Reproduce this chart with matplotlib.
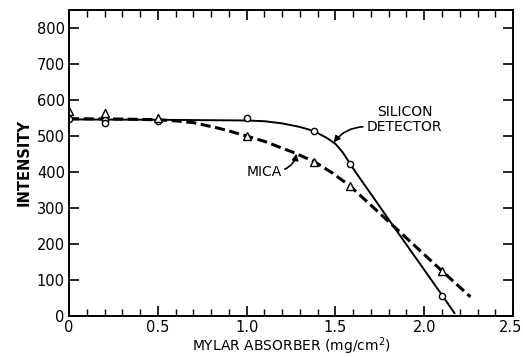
import matplotlib.pyplot as plt
import matplotlib.transforms as mtransforms
from matplotlib.ticker import MultipleLocator

# measured points
si_x = [0, 0.2, 0.2, 0.5, 1.0, 1.38, 1.58, 2.1]
si_y = [546, 543, 537, 541, 551, 513, 421, 56]
mica_x = [0, 0.2, 0.5, 1.0, 1.38, 1.58, 2.1]
mica_y = [568, 563, 550, 500, 428, 362, 124]

# hand-drawn curves
si_curve_x = [0, 0.5, 1.0, 1.1, 1.2, 1.3, 1.35, 1.4, 1.45, 1.5, 1.54, 1.58, 1.62, 1.8, 2.0, 2.1, 2.17]
si_curve_y = [546, 545, 543, 541, 535, 525, 518, 508, 495, 478, 455, 425, 395, 268, 128, 58, 8]
mica_curve_x = [0, 0.3, 0.5, 0.6, 0.7, 0.83, 0.9, 1.0, 1.1, 1.26, 1.38, 1.48, 1.58, 1.8, 2.1, 2.26]
mica_curve_y = [548, 547, 545, 542, 537, 523, 514, 500, 485, 455, 429, 398, 362, 262, 125, 53]

plt.rcParams['font.family'] = 'DejaVu Sans'

fig = plt.figure(figsize=(5.23, 3.57), dpi=100)
ax = fig.add_axes([0.132, 0.115, 0.849, 0.857])

ax.plot(si_curve_x, si_curve_y, 'k-', lw=1.4)
ax.plot(mica_curve_x, mica_curve_y, 'k--', lw=2.2, dashes=(3.3, 1.5))
ax.plot(si_x, si_y, 'o', mfc='white', mec='black', ms=4.5, mew=1.0)
ax.plot(mica_x, mica_y, '^', mfc='white', mec='black', ms=5.5, mew=1.0)

ax.set_xlim(0, 2.5)
ax.set_ylim(0, 850)
ax.xaxis.set_minor_locator(MultipleLocator(0.1))
ax.yaxis.set_major_locator(MultipleLocator(100))
ax.set_xticks([0, 0.5, 1.0, 1.5, 2.0, 2.5])
ax.set_xticklabels(['0', '0.5', '1.0', '1.5', '2.0', '2.5'])
ax.tick_params(which='major', direction='in', length=7, width=1.2,
               top=True, right=True, labelsize=10.5, pad=3)
ax.tick_params(which='minor', direction='in', length=5, width=1.0, top=True)
for s in ax.spines.values():
    s.set_linewidth(1.4)

# nudge the last x label so it stays inside the figure
last = ax.get_xticklabels()[-1]
last.set_transform(last.get_transform() + mtransforms.ScaledTranslation(-3 / 100, 0, fig.dpi_scale_trans))

ax.set_xlabel('MYLAR ABSORBER (mg/cm$^2$)', fontsize=10, labelpad=0)
ax.set_ylabel('INTENSITY', fontsize=10.5, fontweight='bold', labelpad=4)

ax.annotate('SILICON\nDETECTOR', xy=(1.49, 482), xytext=(1.89, 546),
            ha='center', va='center', fontsize=10, linespacing=1.1,
            arrowprops=dict(arrowstyle='-|>', color='black', lw=1.2,
                            mutation_scale=9, relpos=(0, 0.25), shrinkA=1,
                            shrinkB=0, connectionstyle='arc3,rad=0.25'))
ax.annotate('MICA', xy=(1.28, 451), xytext=(1.1, 401),
            ha='center', va='center', fontsize=10,
            arrowprops=dict(arrowstyle='-|>', color='black', lw=1.2,
                            mutation_scale=9, relpos=(1, 0.6), shrinkA=0,
                            shrinkB=0, connectionstyle='arc3,rad=0.3'))

fig.savefig('out.png', dpi=100)
